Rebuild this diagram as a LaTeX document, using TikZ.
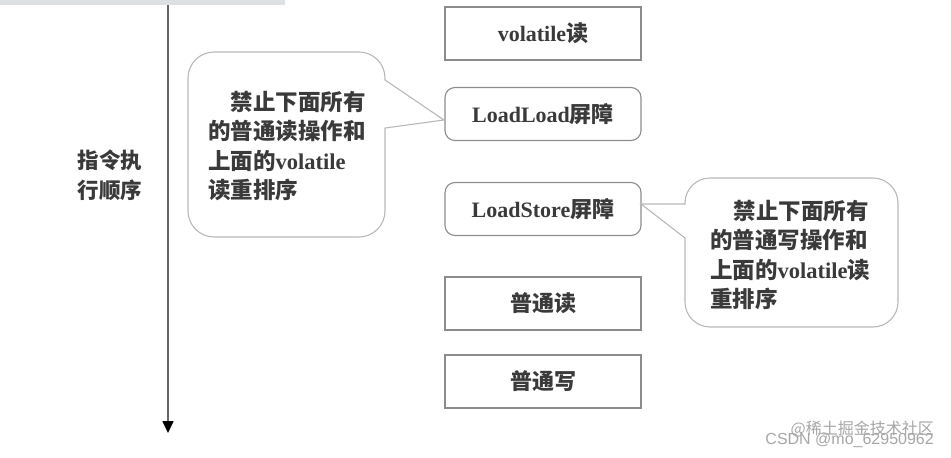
\documentclass[tikz,border=0pt]{standalone}
\usepackage{fontspec}
\setmainfont{Liberation Serif}
\newfontfamily\cjk{Noto Sans CJK SC}
\newfontfamily\wmfont{Liberation Sans}
\usepackage{xcolor}
\usepackage{tikz}
\usetikzlibrary{arrows.meta}

\definecolor{inkgray}{HTML}{3A3A3A}
\definecolor{boxline}{HTML}{8C8C8C}
\definecolor{bubbleline}{HTML}{B8B8B8}
\definecolor{barfill}{HTML}{DDE0E3}

\tikzset{
  opbox/.style={draw=boxline, line width=1.1pt, minimum width=196pt, minimum height=53pt,
    text=inkgray, font=\fontsize{22}{26}\selectfont\bfseries},
  fencebox/.style={opbox, rounded corners=10pt},
  bubble/.style={draw=bubbleline, line width=1.1pt},
  bubbletext/.style={text=inkgray, align=left, anchor=west, inner sep=0pt,
    font=\fontsize{22.5}{29.5}\selectfont\bfseries},
}

\begin{document}
\begin{tikzpicture}[x=1pt, y=-1pt]
\useasboundingbox (0,0) rectangle (951,458);
\fill[barfill] (0,0) rectangle (285,4.5);

% time axis
\coordinate (axtop) at (168,5);
\coordinate (axend) at (168,433);
\draw[line width=1.6pt, gray!80!black, -{Triangle[width=11pt, length=12pt, black]}] (axtop) -- (axend);
\node[text=inkgray, align=center, font=\fontsize{21.5}{30}\selectfont\cjk\bfseries] (axlabel) at (110,175) {指令执\\行顺序};

% instruction sequence
\node[opbox] (vread) at (543,33.5) {volatile{\cjk 读}};
\node[fencebox] (loadload) at (543,114) {LoadLoad{\cjk 屏障}};
\node[fencebox] (loadstore) at (543,209) {LoadStore{\cjk 屏障}};
\node[opbox] (nread) at (543,303.5) {\cjk 普通读};
\node[opbox] (nwrite) at (543,381.5) {\cjk 普通写};

% left bubble
\coordinate (tipL) at (444,120);
\draw[bubble] (385,128) -- (385,211) .. controls (385,225.3) and (373.3,237) .. (359,237)
  -- (214,237) .. controls (199.7,237) and (188,225.3) .. (188,211)
  -- (188,78) .. controls (188,63.7) and (199.7,52) .. (214,52)
  -- (359,52) .. controls (373.3,52) and (385,63.7) .. (385,78)
  -- (385,80) -- (tipL) -- cycle;
\node[bubbletext] (noteL) at (208,146) {\hspace*{1em}{\cjk 禁止下面所有}\\{\cjk 的普通读操作和}\\{\cjk 上面的}volatile\\{\cjk 读重排序}};

% right bubble
\coordinate (tipR) at (641,204);
\draw[bubble] (685,238) -- (685,302) .. controls (685,315.75) and (696.25,327) .. (710,327)
  -- (873,327) .. controls (886.75,327) and (898,315.75) .. (898,302)
  -- (898,203) .. controls (898,189.25) and (886.75,178) .. (873,178)
  -- (710,178) .. controls (696.25,178) and (685,189.25) .. (685,203)
  -- (685,204) -- (tipR) -- cycle;
\node[bubbletext] (noteR) at (710,255) {\hspace*{1.05em}{\cjk 禁止下面所有}\\{\cjk 的普通写操作和}\\{\cjk 上面的}volatile{\cjk 读}\\{\cjk 重排序}};

% watermark
\node[text=gray!70, anchor=east, inner sep=0pt, font=\fontsize{16}{18}\selectfont\cjk] (wmA) at (934,429) {@稀土掘金技术社区};
\node[text=gray!70, anchor=east, inner sep=0pt, font=\fontsize{16}{18}\selectfont\wmfont] (wmB) at (934,440) {CSDN @mo\_62950962};
\end{tikzpicture}
\end{document}
